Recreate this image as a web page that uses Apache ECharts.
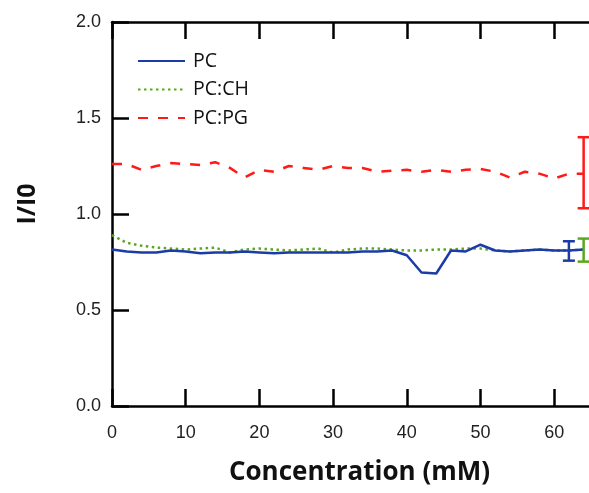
<!DOCTYPE html>
<html><head><meta charset="utf-8">
<script src="https://cdn.jsdelivr.net/npm/echarts@6/dist/echarts.min.js"></script>
<style>html,body{margin:0;padding:0;background:#fff}#c{width:589px;height:493px}</style>
</head><body><div id="c"></div>
<script>
const conc = [0,2,4,6,8,10,12,14,16,18,20,22,24,26,28,30,32,34,36,38,40,42,44,46,48,50,52,54,56,58,60,62,64];
const pc = [0.815,0.805,0.80,0.80,0.81,0.805,0.795,0.80,0.80,0.805,0.80,0.795,0.80,0.80,0.80,0.80,0.80,0.805,0.805,0.81,0.785,0.695,0.69,0.81,0.805,0.84,0.81,0.805,0.81,0.815,0.81,0.81,0.815];
const pcch = [0.89,0.85,0.835,0.825,0.82,0.815,0.82,0.825,0.80,0.815,0.82,0.815,0.81,0.815,0.82,0.80,0.815,0.82,0.82,0.815,0.81,0.81,0.815,0.815,0.82,0.82,0.81,0.805,0.81,0.815,0.81,0.81,0.815];
const pcpg = [1.26,1.26,1.23,1.25,1.265,1.26,1.255,1.27,1.24,1.19,1.23,1.22,1.25,1.24,1.23,1.25,1.24,1.24,1.22,1.225,1.23,1.22,1.23,1.22,1.23,1.235,1.22,1.19,1.22,1.21,1.185,1.21,1.21];
// error bars: [x, low, high]
const errPC = [[62, 0.757, 0.858]];
const errCH = [[64, 0.752, 0.872]];
const errPG = [[64, 1.03, 1.40]];
const xTicks = [0,10,20,30,40,50,60];
const yTicks = [0.0,0.5,1.0,1.5,2.0];

const BLUE = '#1b3ca6', GREEN = '#5aa81e', RED = '#ff1a1a';
const zip = (xs, ys) => xs.map((x, i) => [x, ys[i]]);

function errSeries(data, color) {
  return {
    type: 'custom', silent: true, z: 5,
    data: data,
    encode: { x: 0, y: [1, 2] },
    renderItem: function (params, api) {
      const x = api.value(0);
      const lo = api.coord([x, api.value(1)]);
      const hi = api.coord([x, api.value(2)]);
      const w = 6;
      const st = { stroke: color, lineWidth: 2.5 };
      return { type: 'group', children: [
        { type: 'line', shape: { x1: lo[0], y1: lo[1], x2: hi[0], y2: hi[1] }, style: st },
        { type: 'line', shape: { x1: lo[0] - w, y1: lo[1], x2: lo[0] + w, y2: lo[1] }, style: st },
        { type: 'line', shape: { x1: hi[0] - w, y1: hi[1], x2: hi[0] + w, y2: hi[1] }, style: st }
      ]};
    }
  };
}

const chart = echarts.init(document.getElementById('c'));
const axisLine = { show: true, lineStyle: { color: '#000', width: 2.5 } };
const tick = { show: true, inside: true, length: 17, lineStyle: { color: '#000', width: 2.5 } };
chart.setOption({
  animation: false,
  grid: { left: 112, top: 22, width: 479, height: 384, containLabel: false, outerBoundsMode: 'none' },
  legend: {
    orient: 'vertical', left: 132, top: 46,
    itemWidth: 47, itemHeight: 14, itemGap: 8.5,
    itemStyle: { opacity: 0 },
    textStyle: { fontFamily: 'Open Sans', fontSize: 19.5, color: '#111', padding: [0, 0, 0, 3] },
    data: ['PC', 'PC:CH', 'PC:PG']
  },
  xAxis: [{
    type: 'value', min: 0, max: 65, interval: 10,
    axisLine: axisLine, axisTick: tick,
    axisLabel: { fontFamily: 'Liberation Sans', fontSize: 18, color: '#222', margin: 18,
      formatter: v => xTicks.includes(v) ? String(v) : '' },
    splitLine: { show: false },
    name: 'Concentration (mM)', nameLocation: 'middle', nameGap: 54,
    nameTextStyle: { fontFamily: 'Open Sans', fontWeight: 'bold', fontSize: 26, color: '#111', padding: [0, 0, 0, 16] }
  }, {
    type: 'value', min: 0, max: 65, interval: 10, position: 'top',
    axisLine: axisLine, axisTick: tick,
    axisLabel: { show: false }, splitLine: { show: false }
  }],
  yAxis: [{
    type: 'value', min: 0, max: 2, interval: 0.5,
    axisLine: axisLine, axisTick: tick,
    axisLabel: { fontFamily: 'Liberation Sans', fontSize: 18, color: '#222', margin: 11,
      formatter: v => yTicks.includes(v) ? v.toFixed(1) : '' },
    splitLine: { show: false },
    name: 'I/I0', nameLocation: 'middle', nameGap: 72, nameRotate: 90,
    nameTextStyle: { fontFamily: 'Open Sans', fontWeight: 'bold', fontSize: 25, color: '#111', padding: [0, 0, 0, 20] }
  }],
  series: [
    { name: 'PC', type: 'line', data: zip(conc, pc), showSymbol: false, symbol: 'none', z: 3,
      lineStyle: { color: BLUE, width: 2.5 }, itemStyle: { color: BLUE } },
    { name: 'PC:CH', type: 'line', data: zip(conc, pcch), showSymbol: false, symbol: 'none', z: 2,
      lineStyle: { color: GREEN, width: 2.5, type: [2.5, 3.5] }, itemStyle: { color: GREEN } },
    { name: 'PC:PG', type: 'line', data: zip(conc, pcpg), showSymbol: false, symbol: 'none', z: 2,
      lineStyle: { color: RED, width: 2.5, type: [10, 10] }, itemStyle: { color: RED } },
    errSeries(errPC, BLUE), errSeries(errCH, GREEN), errSeries(errPG, RED)
  ]
});
</script></body></html>
